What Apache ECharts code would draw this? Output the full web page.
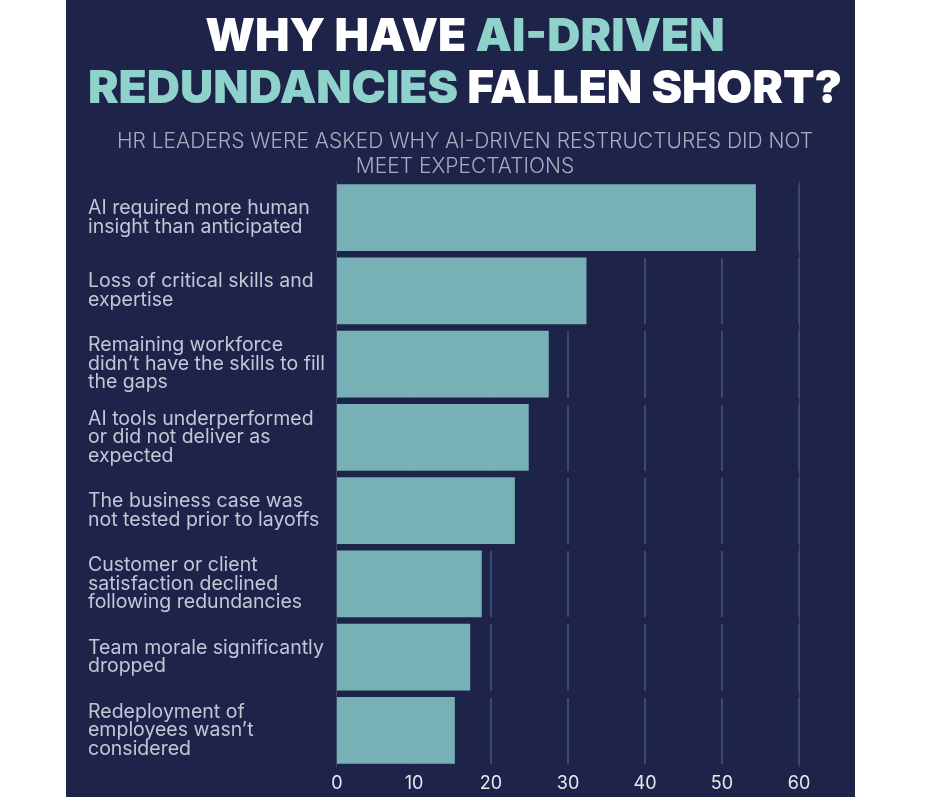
<!DOCTYPE html>
<html>
<head>
<meta charset="utf-8">
<script src="https://cdn.jsdelivr.net/npm/echarts@6/dist/echarts.min.js"></script>
<style>
  html, body { margin: 0; padding: 0; background: #ffffff; }
  #panel { position: absolute; left: 66px; top: 0; width: 789px; height: 797px; background: #1e2449; }
  #chart { position: absolute; left: 0; top: 0; width: 926px; height: 802px; }
</style>
</head>
<body>
<div id="panel"></div>
<div id="chart"></div>
<script>
// reasons (top to bottom) and share of HR leaders (%)
var reasons = [
    'AI required more human\ninsight than anticipated',
    'Loss of critical skills and\nexpertise',
    'Remaining workforce\ndidn\u2019t have the skills to fill\nthe gaps',
    'AI tools underperformed\nor did not deliver as\nexpected',
    'The business case was\nnot tested prior to layoffs',
    'Customer or client\nsatisfaction declined\nfollowing redundancies',
    'Team morale significantly\ndropped',
    'Redeployment of\nemployees wasn\u2019t\nconsidered'
];
var shares = [54.4, 32.4, 27.5, 24.9, 23.1, 18.8, 17.3, 15.3];
var ticks = [0, 10, 20, 30, 40, 50, 60];

var navy = '#1e2449';
var teal = '#78b1b5';

var myChart = echarts.init(document.getElementById('chart'));
myChart.setOption({
    backgroundColor: 'transparent',
    title: [{
        text: '{w|WHY HAVE }{t|AI-DRIVEN}\n{t|REDUNDANCIES}{w| FALLEN SHORT?}',
        left: 460,
        textAlign: 'center',
        top: 6,
        textStyle: {
            rich: {
                w: { color: '#ffffff', fontFamily: 'Inter', fontWeight: 900, fontSize: 46, lineHeight: 52 },
                t: { color: '#8fd1cb', fontFamily: 'Inter', fontWeight: 900, fontSize: 46, lineHeight: 52 }
            }
        }
    }, {
        text: 'HR LEADERS WERE ASKED WHY AI-DRIVEN RESTRUCTURES DID NOT\nMEET EXPECTATIONS',
        left: 460,
        textAlign: 'center',
        top: 124,
        textStyle: {
            color: '#a9acbf',
            fontFamily: 'Inter',
            fontWeight: 300,
            fontSize: 21,
            lineHeight: 25,
            align: 'center'
        }
    }],
    grid: {
        left: 337,
        right: 127,
        top: 181,
        height: 586,
        containLabel: false
    },
    xAxis: {
        type: 'value',
        min: 0,
        max: 60,
        interval: 10,
        z: 0,
        axisLine: { show: false },
        axisTick: { show: false },
        axisLabel: {
            color: '#e6e7ef',
            fontFamily: 'Inter',
            fontSize: 18,
            margin: 8,
            formatter: function (v) { return ticks.indexOf(v) >= 0 ? String(v) : ''; }
        },
        splitLine: { show: true, lineStyle: { color: '#4a5378', width: 1.5 } }
    },
    yAxis: {
        type: 'category',
        data: reasons,
        inverse: true,
        z: 1,
        axisLine: { show: false },
        axisTick: { show: false },
        axisLabel: {
            align: 'left',
            margin: 249,
            color: '#c3c6d5',
            fontFamily: 'Inter',
            fontSize: 19.5,
            lineHeight: 18.5
        },
        splitLine: { show: true, lineStyle: { color: navy, width: 7 } }
    },
    series: [{
        type: 'bar',
        data: shares,
        barCategoryGap: '9%',
        z: 2,
        itemStyle: { color: teal }
    }]
});
</script>
</body>
</html>
